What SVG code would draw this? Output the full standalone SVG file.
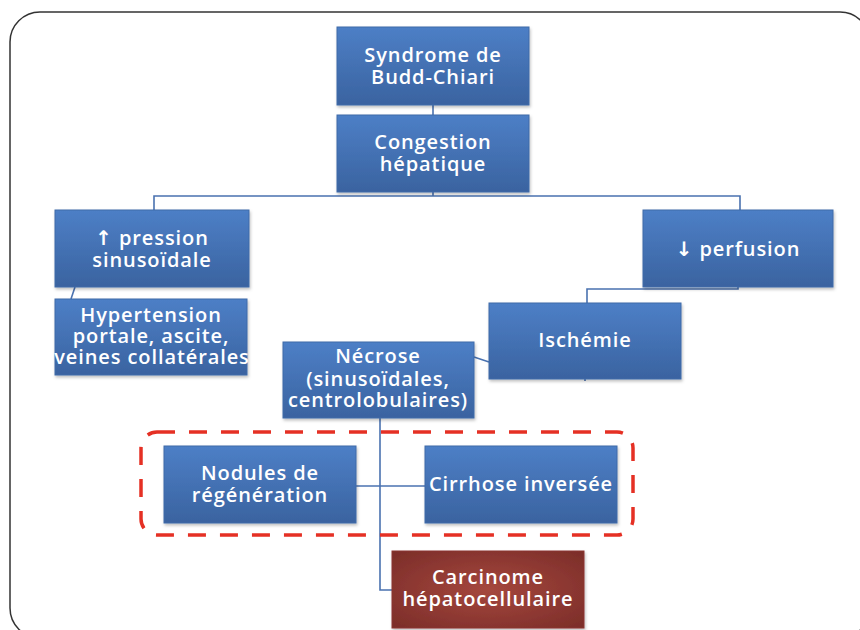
<svg xmlns="http://www.w3.org/2000/svg" width="860" height="630" viewBox="0 0 860 630">
<defs>
<linearGradient id="blue" x1="0" y1="0" x2="0" y2="1">
<stop offset="0" stop-color="#4d7fc6"/>
<stop offset="1" stop-color="#3a63a0"/>
</linearGradient>
<radialGradient id="red" cx="0.5" cy="0.5" r="0.7">
<stop offset="0" stop-color="#a5473d"/>
<stop offset="1" stop-color="#7b2d29"/>
</radialGradient>
<filter id="sh" x="-10%" y="-10%" width="125%" height="130%">
<feDropShadow dx="1" dy="2" stdDeviation="1.5" flood-color="#000" flood-opacity="0.25"/>
</filter>
</defs>
<style>
.box{fill:url(#blue);stroke:#3f6aa8;stroke-width:1;filter:url(#sh)}
.rbox{fill:url(#red);stroke:#8a3530;stroke-width:1;filter:url(#sh)}
text{font-family:"Open Sans","DejaVu Sans",sans-serif;font-weight:600;font-size:20px;letter-spacing:0.9px;fill:#fff;text-anchor:middle}
.c{fill:none;stroke:#4a72b0;stroke-width:1.6}
</style>
<rect x="10" y="12" width="860" height="626" rx="30" fill="#fff" stroke="#333" stroke-width="1.5"/>
<g id="connectors">
<path class="c" d="M433 105V115"/>
<path class="c" d="M433 192V196M154 210V196H740V210"/>
<path class="c" d="M75 287L71 299"/>
<path class="c" d="M738 287V289H587V303"/>
<path class="c" d="M474 357L489 362"/>
<path class="c" d="M585 379V381"/>
<path class="c" d="M380 418V590H392"/>
<path class="c" d="M356 486H425"/>
</g>
<g id="group-box">
<rect x="141" y="432" width="492" height="103" rx="16" fill="none" stroke="#e53024" stroke-width="3.5" stroke-dasharray="18 14"/>
</g>
<g id="n-syndrome"><rect class="box" x="337" y="27" width="192" height="78"/><text x="433" y="62">Syndrome de</text><text x="433" y="84">Budd-Chiari</text></g>
<g id="n-congestion"><rect class="box" x="337" y="115" width="192" height="77"/><text x="433" y="149">Congestion</text><text x="433" y="171">hépatique</text></g>
<g id="n-pression"><rect class="box" x="55" y="210" width="194" height="77"/><text x="152" y="245">↑ pression</text><text x="152" y="267">sinusoïdale</text></g>
<g id="n-perfusion"><rect class="box" x="643" y="210" width="190" height="77"/><text x="738" y="256">↓ perfusion</text></g>
<g id="n-hypertension"><rect class="box" x="55" y="299" width="192" height="76"/><text x="151" y="322">Hypertension</text><text x="151" y="343">portale, ascite,</text><text x="152" y="364">veines collatérales</text></g>
<g id="n-ischemie"><rect class="box" x="489" y="303" width="192" height="76"/><text x="585" y="347">Ischémie</text></g>
<g id="n-necrose"><rect class="box" x="283" y="342" width="191" height="76"/><text x="378" y="363">Nécrose</text><text x="378" y="386">(sinusoïdales,</text><text x="378" y="407">centrolobulaires)</text></g>
<g id="n-nodules"><rect class="box" x="164" y="446" width="192" height="77"/><text x="260" y="480">Nodules de</text><text x="260" y="502">régénération</text></g>
<g id="n-cirrhose"><rect class="box" x="425" y="446" width="192" height="77"/><text x="521" y="491">Cirrhose inversée</text></g>
<g id="n-carcinome"><rect class="rbox" x="392" y="551" width="192" height="77"/><text x="488" y="584">Carcinome</text><text x="488" y="606">hépatocellulaire</text></g>
</svg>
